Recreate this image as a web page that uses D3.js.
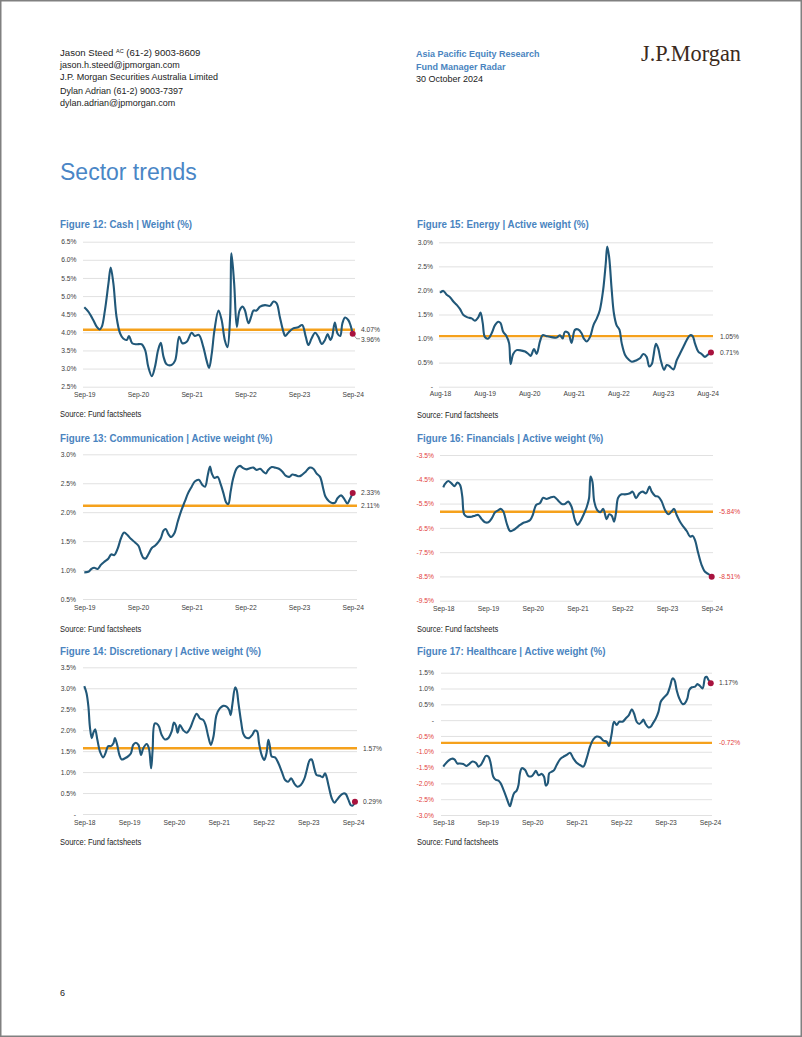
<!DOCTYPE html>
<html><head><meta charset="utf-8">
<script src="https://cdn.jsdelivr.net/npm/d3@7"></script>
<style>
body{margin:0;background:#fff}
svg{display:block}
text{font-family:Arial,"Liberation Sans",sans-serif}
</style>
</head><body>
<svg id="page" width="802" height="1037"></svg>
<script>
// ---------------- DATA ----------------
// x = months since first axis label, y = weight (%)
const cashSeries = [[0,4.69],[0.9,4.57],[2.0,4.34],[2.8,4.15],[3.4,4.08],[3.9,4.15],[4.6,4.6],[5.4,5.35],[5.9,5.79],[6.5,5.35],[7.2,4.43],[8.0,3.97],[8.7,3.83],[9.5,3.79],[10.0,3.9],[10.7,3.7],[11.7,3.67],[12.8,3.67],[13.6,3.51],[14.3,3.05],[15.1,2.79],[15.8,3.05],[16.5,3.51],[17.1,3.71],[17.7,3.33],[18.4,3.12],[19.5,3.1],[20.3,3.22],[21.2,3.88],[21.9,3.7],[22.9,3.74],[24.0,3.99],[24.7,3.9],[25.6,3.93],[26.6,3.6],[27.3,3.24],[27.9,3.02],[28.5,3.42],[29.1,4.06],[30.0,4.6],[30.7,4.34],[31.4,3.79],[32.0,3.59],[32.6,4.43],[32.9,6.18],[33.5,5.35],[34.1,4.15],[34.7,4.6],[35.4,4.71],[35.9,4.61],[36.7,4.25],[37.3,4.43],[37.8,4.6],[38.5,4.6],[39.3,4.71],[40.4,4.75],[41.5,4.73],[42.3,4.85],[43.0,4.8],[43.7,4.43],[44.5,4.02],[44.9,3.9],[45.6,3.99],[46.7,4.11],[47.8,4.14],[48.7,4.2],[49.5,3.88],[50.1,3.65],[50.8,3.83],[51.6,3.99],[52.3,3.88],[53.1,3.68],[53.8,3.79],[54.4,3.95],[55.0,3.79],[55.4,3.88],[56.0,4.27],[56.6,3.97],[57.2,3.9],[57.7,4.25],[58.3,4.41],[59.0,4.34],[59.5,4.2],[60.0,3.96]];
const cashAvg = 4.07, cashLast = 3.96;
const cashXLabels = ["Sep-19","Sep-20","Sep-21","Sep-22","Sep-23","Sep-24"];
const cashYTicks = [2.5,3.0,3.5,4.0,4.5,5.0,5.5,6.0,6.5];

const commSeries = [[0,0.96],[0.9,0.97],[1.6,1.02],[2.2,1.04],[3.0,1.02],[3.7,1.09],[4.6,1.15],[5.4,1.20],[6.0,1.27],[6.7,1.26],[7.5,1.38],[8.2,1.55],[8.9,1.65],[9.7,1.60],[10.4,1.54],[11.3,1.48],[12.1,1.42],[12.7,1.29],[13.2,1.21],[13.7,1.20],[14.3,1.27],[15.1,1.38],[15.8,1.42],[16.5,1.48],[17.1,1.55],[17.7,1.68],[18.2,1.71],[18.8,1.62],[19.4,1.57],[20.1,1.63],[20.9,1.84],[21.6,2.01],[22.5,2.19],[23.2,2.33],[24.0,2.44],[24.7,2.53],[25.6,2.56],[26.4,2.47],[27.0,2.44],[27.6,2.64],[28.1,2.79],[28.5,2.67],[29.1,2.59],[29.8,2.61],[30.5,2.48],[31.1,2.33],[31.7,2.17],[32.2,2.14],[32.7,2.35],[33.3,2.59],[34.1,2.76],[34.8,2.80],[35.5,2.76],[36.3,2.74],[37.0,2.76],[37.8,2.77],[38.5,2.73],[39.3,2.75],[40.0,2.70],[40.6,2.67],[41.1,2.73],[41.9,2.78],[42.6,2.77],[43.5,2.75],[44.3,2.70],[45.0,2.63],[45.8,2.61],[46.5,2.65],[47.2,2.64],[48.0,2.62],[48.6,2.64],[49.5,2.70],[50.4,2.77],[51.2,2.75],[51.9,2.67],[52.7,2.61],[53.4,2.41],[53.9,2.27],[54.7,2.19],[55.4,2.16],[56.0,2.16],[56.6,2.24],[57.4,2.29],[58.1,2.23],[58.8,2.15],[59.4,2.23],[60.0,2.33]];
const commAvg = 2.11, commLast = 2.33;
const commXLabels = ["Sep-19","Sep-20","Sep-21","Sep-22","Sep-23","Sep-24"];
const commYTicks = [0.5,1.0,1.5,2.0,2.5,3.0];

const discSeries = [[0,3.05],[0.6,2.88],[1.1,2.56],[1.5,2.08],[2.0,1.81],[2.4,1.93],[2.9,2.02],[3.5,1.77],[4.2,1.49],[5.1,1.35],[5.7,1.46],[6.4,1.62],[7.1,1.62],[7.8,1.69],[8.2,1.81],[8.8,1.65],[9.4,1.41],[10.0,1.30],[10.9,1.33],[11.8,1.38],[12.5,1.45],[13.1,1.65],[13.8,1.70],[14.5,1.65],[15.2,1.41],[15.8,1.57],[16.7,1.67],[17.3,1.57],[17.9,1.09],[18.3,1.53],[18.9,2.16],[19.8,2.12],[20.7,1.89],[21.6,1.78],[22.5,1.81],[23.4,1.97],[24.0,2.18],[24.5,2.12],[25.0,1.94],[25.6,2.12],[26.5,2.00],[27.4,1.94],[28.3,2.04],[29.2,2.24],[30.1,2.39],[31.0,2.28],[31.9,2.24],[32.5,2.12],[33.2,1.85],[33.9,1.65],[34.6,1.85],[35.4,2.36],[36.3,2.52],[37.2,2.58],[38.1,2.56],[38.8,2.48],[39.2,2.36],[39.7,2.64],[40.4,3.02],[40.8,2.96],[41.3,2.64],[42.0,2.20],[42.6,1.91],[43.2,1.83],[44.1,1.81],[45.0,1.89],[45.7,1.99],[46.3,1.97],[46.8,1.69],[47.5,1.41],[48.2,1.29],[48.8,1.45],[49.3,1.77],[49.7,1.62],[50.2,1.37],[51.1,1.35],[52.0,1.21],[52.9,1.01],[53.8,0.81],[54.6,0.77],[55.4,0.85],[56.3,0.72],[57.1,0.65],[58.0,0.69],[58.9,0.83],[59.6,1.05],[60.4,1.29],[60.9,1.30],[61.6,1.09],[62.2,0.93],[63.1,0.91],[63.8,0.88],[64.5,0.97],[64.9,0.88],[65.5,0.65],[66.3,0.37],[67.0,0.27],[67.6,0.33],[68.5,0.43],[69.4,0.49],[70.0,0.48],[70.7,0.35],[71.4,0.21],[71.9,0.20],[72.5,0.29]];
const discAvg = 1.57, discLast = 0.29;
const discXLabels = ["Sep-18","Sep-19","Sep-20","Sep-21","Sep-22","Sep-23","Sep-24"];
const discYTicks = [0,0.5,1.0,1.5,2.0,2.5,3.0,3.5];

const energySeries = [[0,1.95],[0.9,1.99],[1.8,1.91],[2.7,1.86],[3.6,1.77],[4.5,1.70],[5.4,1.61],[6.3,1.49],[7.4,1.44],[8.5,1.42],[9.4,1.37],[10.3,1.44],[10.9,1.54],[11.5,1.32],[12.1,1.03],[13.0,1.0],[13.9,1.11],[14.8,1.28],[15.7,1.35],[16.3,1.32],[17.0,1.14],[17.9,1.05],[18.6,0.90],[19.0,0.47],[19.7,0.68],[20.6,0.76],[22.0,0.75],[22.9,0.73],[23.8,0.68],[24.4,0.64],[25.3,0.78],[26.0,0.68],[26.9,0.94],[27.6,1.07],[28.7,1.05],[30.0,1.03],[31.4,1.02],[32.3,1.07],[33.0,1.0],[33.6,1.14],[34.5,1.12],[35.4,0.91],[36.3,1.18],[37.2,1.19],[38.1,1.11],[38.7,1.0],[39.5,0.94],[40.4,1.04],[41.3,1.28],[42.2,1.42],[43.0,1.59],[43.9,2.01],[44.6,2.56],[45.0,2.91],[45.5,2.70],[46.2,2.01],[46.8,1.52],[47.5,1.28],[48.3,1.18],[48.9,0.90],[49.8,0.66],[50.7,0.57],[51.6,0.52],[52.9,0.55],[53.8,0.59],[54.7,0.68],[55.6,0.62],[56.3,0.42],[57.0,0.47],[57.4,0.62],[58.1,0.89],[58.7,0.80],[59.4,0.55],[60.3,0.35],[61.0,0.45],[61.7,0.43],[62.8,0.36],[63.7,0.55],[64.6,0.69],[65.5,0.83],[66.4,0.97],[67.3,1.07],[68.0,1.05],[68.6,0.90],[69.5,0.73],[70.4,0.68],[71.3,0.62],[72.0,0.66],[72.9,0.71]];
const energyAvg = 1.05, energyLast = 0.71;
const energyXLabels = ["Aug-18","Aug-19","Aug-20","Aug-21","Aug-22","Aug-23","Aug-24"];
const energyYTicks = [0,0.5,1.0,1.5,2.0,2.5,3.0];

const finSeries = [[0,-4.83],[0.4,-4.70],[1.3,-4.57],[2.2,-4.67],[3.0,-4.78],[3.8,-4.63],[4.5,-4.74],[5.1,-5.22],[5.6,-5.94],[6.4,-6.04],[7.6,-6.04],[8.5,-6.0],[9.4,-5.97],[10.3,-6.14],[11.2,-6.27],[12.1,-6.27],[13.0,-6.11],[13.9,-5.86],[14.8,-5.77],[15.4,-5.72],[16.1,-5.83],[17.0,-6.31],[17.9,-6.63],[18.8,-6.59],[19.7,-6.49],[20.6,-6.38],[21.5,-6.29],[22.4,-6.25],[23.3,-6.18],[24.0,-5.97],[24.9,-5.56],[25.9,-5.49],[26.8,-5.26],[27.7,-5.31],[28.6,-5.26],[29.7,-5.22],[30.9,-5.39],[31.8,-5.52],[32.6,-5.52],[33.5,-5.42],[34.4,-5.63],[35.3,-6.18],[36.0,-6.38],[36.7,-6.25],[37.6,-5.97],[38.5,-5.63],[39.1,-5.28],[39.5,-4.39],[40.0,-4.60],[40.5,-5.42],[41.3,-5.77],[42.1,-5.86],[42.9,-5.72],[43.8,-6.14],[44.5,-5.94],[45.2,-6.0],[45.8,-6.25],[46.3,-5.91],[46.9,-5.26],[47.8,-5.12],[48.7,-5.12],[49.9,-5.09],[50.8,-5.01],[51.7,-5.28],[52.6,-5.08],[53.5,-5.01],[54.4,-5.08],[55.3,-4.80],[55.9,-5.01],[56.8,-5.18],[57.7,-5.22],[58.6,-5.42],[59.5,-5.77],[60.4,-5.94],[61.2,-5.83],[61.9,-5.72],[62.6,-5.97],[63.5,-6.25],[64.4,-6.45],[65.3,-6.63],[66.2,-6.86],[66.9,-6.83],[67.5,-7.0],[68.4,-7.55],[69.3,-8.03],[70.2,-8.31],[71.1,-8.40],[72.0,-8.51]];
const finAvg = -5.84, finLast = -8.51;
const finXLabels = ["Sep-18","Sep-19","Sep-20","Sep-21","Sep-22","Sep-23","Sep-24"];
const finYTicks = [-9.5,-8.5,-7.5,-6.5,-5.5,-4.5,-3.5];

const healthSeries = [[0,-1.47],[0.5,-1.39],[1.4,-1.28],[2.3,-1.22],[3.0,-1.24],[3.8,-1.37],[4.5,-1.37],[5.4,-1.39],[6.3,-1.45],[7.0,-1.39],[7.9,-1.31],[8.8,-1.35],[9.5,-1.47],[10.1,-1.42],[10.8,-1.28],[11.5,-1.13],[12.2,-1.16],[12.8,-1.37],[13.5,-1.79],[14.2,-1.89],[14.9,-1.91],[15.5,-2.0],[16.2,-2.19],[16.9,-2.40],[17.6,-2.63],[18.0,-2.72],[18.5,-2.53],[19.1,-2.31],[19.8,-2.23],[20.3,-2.05],[20.7,-1.68],[21.2,-1.52],[22.1,-1.58],[23.0,-1.77],[23.9,-1.77],[24.5,-1.68],[25.0,-1.60],[25.7,-1.74],[26.6,-1.70],[27.2,-1.79],[27.7,-2.07],[28.2,-2.0],[28.6,-1.68],[29.3,-1.63],[29.9,-1.58],[30.6,-1.42],[31.5,-1.24],[32.4,-1.16],[33.3,-1.10],[34.2,-1.03],[35.1,-1.21],[36.0,-1.35],[36.9,-1.42],[37.8,-1.47],[38.7,-1.21],[39.6,-0.84],[40.5,-0.61],[41.4,-0.52],[42.3,-0.54],[43.2,-0.65],[44.1,-0.68],[44.7,-0.82],[45.4,-0.47],[46.1,-0.05],[46.8,-0.15],[47.5,-0.05],[48.4,-0.05],[49.3,0.06],[50.1,0.16],[50.9,0.34],[51.5,0.21],[52.2,-0.05],[52.9,-0.12],[53.6,-0.05],[54.0,0.02],[54.6,-0.12],[55.4,-0.23],[56.0,-0.21],[56.7,-0.08],[57.4,0.06],[58.1,0.27],[58.7,0.58],[59.6,0.72],[60.5,0.83],[61.2,1.06],[61.9,1.32],[62.4,1.27],[63.0,0.95],[63.7,0.69],[64.6,0.51],[65.2,0.53],[65.9,0.69],[66.4,0.95],[67.1,1.04],[68.0,1.06],[68.6,1.14],[69.3,1.08],[70.0,1.00],[70.7,1.35],[71.1,1.37],[71.6,1.27],[72.2,1.17]];
const healthAvg = -0.72, healthLast = 1.17;
const healthXLabels = ["Sep-18","Sep-19","Sep-20","Sep-21","Sep-22","Sep-23","Sep-24"];
const healthYTicks = [-3.0,-2.5,-2.0,-1.5,-1.0,-0.5,0,0.5,1.0,1.5];

const headerLeft = ["jason.h.steed@jpmorgan.com","J.P. Morgan Securities Australia Limited","Dylan Adrian  (61-2) 9003-7397","dylan.adrian@jpmorgan.com"];

// ---------------- STYLE ----------------
const C = {blue:"#4a84c0", line:"#215879", avg:"#f5a11c", dot:"#a8123e", red:"#e2403b", grid:"#d9d9d9", tick:"#3c3c3c", text:"#222"};

const svg = d3.select("#page");
svg.append("rect").attr("x",0.75).attr("y",0.75).attr("width",800.5).attr("height",1035.5)
  .attr("fill","#fff").attr("stroke","#808080").attr("stroke-width",1.5);

// condense text: keep the width it has at baseSize, draw it at bigSize
function condense(sel, baseSize, bigSize){
  sel.each(function(){
    const t = d3.select(this);
    t.attr("font-size", baseSize);
    const w = this.getComputedTextLength();
    t.attr("font-size", bigSize).attr("textLength", w).attr("lengthAdjust","spacingAndGlyphs");
  });
}

// header
const hl = svg.append("text").attr("x",60).attr("y",56).attr("font-size",9.6).attr("fill",C.text);
hl.append("tspan").text("Jason Steed ");
hl.append("tspan").attr("font-size",5.5).attr("dy",-3).text("AC");
hl.append("tspan").attr("dy",3).text(" (61-2) 9003-8609");
const hlines = svg.selectAll("text.hl").data(headerLeft).join("text").attr("class","hl")
  .attr("x",60).attr("y",(d,i)=>[68,80,94,106][i]).attr("fill",C.text).text(d=>d);
condense(hlines, 9, 9.8);
const r1 = svg.append("text").attr("x",416).attr("y",57).attr("font-weight","bold").attr("fill",C.blue).text("Asia Pacific Equity Research");
const r2 = svg.append("text").attr("x",416).attr("y",70).attr("font-weight","bold").attr("fill",C.blue).text("Fund Manager Radar");
const r3 = svg.append("text").attr("x",416).attr("y",82).attr("fill",C.text).text("30 October 2024");
condense(r1,9,9.8); condense(r2,9,9.8); condense(r3,9,9.8);
svg.append("text").attr("x",641).attr("y",60.5).attr("font-size",22.5)
  .style("font-family",'"Liberation Serif","DejaVu Serif",serif').attr("fill","#3b2a20")
  .attr("textLength",100).attr("lengthAdjust","spacingAndGlyphs").text("J.P.Morgan");
svg.append("text").attr("x",60).attr("y",180).attr("font-size",23).attr("fill","#4a86c6").text("Sector trends");
svg.append("text").attr("x",60).attr("y",996).attr("font-size",9).attr("fill",C.text).text("6");

// ---------------- CHART ----------------
function drawChart(o){
  const g = svg.append("g");
  const x = d3.scaleLinear().domain(o.xDomain).range(o.xRange);
  const y = d3.scaleLinear().domain([o.yTicks[0], o.yTicks[o.yTicks.length-1]]).range(o.yRange);
  const fmt = v => Math.abs(v) < 1e-9 ? "-" : v.toFixed(1) + "%";

  const tt = g.append("text").attr("x",o.left).attr("y",o.titleY).attr("font-weight","bold")
    .attr("fill",C.blue).text(o.title);
  condense(tt, 9.8, 11.6);

  // y axis with gridlines
  const ya = g.append("g").attr("transform",`translate(${o.grid[1]},0)`)
    .call(d3.axisLeft(y).tickValues(o.yTicks).tickFormat(fmt)
      .tickSize(o.grid[1]-o.grid[0]).tickPadding(o.grid[0]-o.labelRight));
  ya.select(".domain").remove();
  ya.selectAll(".tick line").attr("stroke",C.grid).attr("stroke-width",0.8);
  ya.selectAll(".tick text").attr("font-size",6.7).style("font-family","Arial,'Liberation Sans',sans-serif")
    .attr("fill",d => d < 0 ? C.red : C.tick);

  // x axis
  const xa = g.append("g").attr("transform",`translate(0,${o.xLabelY-2.4})`)
    .call(d3.axisBottom(x).tickValues(o.xLabels.map((d,i)=>i*12))
      .tickFormat((d,i)=>o.xLabels[i]).tickSize(0).tickPadding(0));
  xa.select(".domain").remove();
  xa.selectAll(".tick text").attr("font-size",6.7).style("font-family","Arial,'Liberation Sans',sans-serif").attr("fill",C.tick);

  // average line
  g.append("line").attr("x1",o.grid[0]).attr("x2",o.grid[1]).attr("y1",y(o.avg)).attr("y2",y(o.avg))
    .attr("stroke",C.avg).attr("stroke-width",2.4);

  // series
  const line = d3.line().x(d=>x(d[0])).y(d=>y(d[1])).curve(d3.curveCatmullRom.alpha(0.5));
  g.append("path").datum(o.series).attr("d",line).attr("fill","none")
    .attr("stroke",C.line).attr("stroke-width",2.1).attr("stroke-linejoin","round");

  const last = o.series[o.series.length-1];
  const lx = x(last[0]), ly = y(o.last);
  if (o.leader){
    g.append("path").attr("d",`M${lx},${ly}L${lx+4},${ly+5}L${o.valueX-1},${ly+5}`)
      .attr("fill","none").attr("stroke","#555").attr("stroke-width",0.6);
  }
  g.append("circle").attr("cx",lx).attr("cy",ly).attr("r",3).attr("fill",C.dot);

  // value labels
  const labs = [{v:o.avg, dy:0},{v:o.last, dy:o.lastDy||0}];
  g.selectAll("text.val").data(labs).join("text").attr("class","val")
    .attr("x",o.valueX).attr("y",d=>y(d.v)+d.dy).attr("dy","0.35em")
    .attr("font-size",6.7).attr("fill",d=>d.v<0?C.red:C.tick).text(d=>d.v.toFixed(2)+"%");

  const src = g.append("text").attr("x",o.left).attr("y",o.sourceY).attr("fill",C.text)
    .text("Source: Fund factsheets");
  condense(src, 7.5, 8.2);
}

drawChart({title:"Figure 12: Cash | Weight (%)", series:cashSeries, avg:cashAvg, last:cashLast,
  xLabels:cashXLabels, yTicks:cashYTicks, left:60, titleY:227.5, sourceY:416.5,
  xDomain:[0,60], xRange:[84.3,352.7], yRange:[386.7,241.7], grid:[83,355], labelRight:76.5,
  xLabelY:395, valueX:361, lastDy:6, leader:true});

drawChart({title:"Figure 13: Communication | Active weight (%)", series:commSeries, avg:commAvg, last:commLast,
  xLabels:commXLabels, yTicks:commYTicks, left:60, titleY:441.5, sourceY:631.5,
  xDomain:[0,60], xRange:[84.3,352.7], yRange:[599,454.3], grid:[83,357], labelRight:76,
  xLabelY:608, valueX:361});

drawChart({title:"Figure 14: Discretionary | Active weight (%)", series:discSeries, avg:discAvg, last:discLast,
  xLabels:discXLabels, yTicks:discYTicks, left:60, titleY:654.5, sourceY:844.5,
  xDomain:[0,72], xRange:[84.3,353.1], yRange:[814,667.3], grid:[83,357], labelRight:76,
  xLabelY:823, valueX:363});

drawChart({title:"Figure 15: Energy | Active weight (%)", series:energySeries, avg:energyAvg, last:energyLast,
  xLabels:energyXLabels, yTicks:energyYTicks, left:417, titleY:227.5, sourceY:417.5,
  xDomain:[0,73], xRange:[440,711.3], yRange:[386.7,242.3], grid:[439,713], labelRight:433,
  xLabelY:394, valueX:720});

drawChart({title:"Figure 16: Financials | Active weight (%)", series:finSeries, avg:finAvg, last:finLast,
  xLabels:finXLabels, yTicks:finYTicks, left:417, titleY:441.5, sourceY:631.5,
  xDomain:[0,72], xRange:[443.3,711.7], yRange:[600.7,455], grid:[440,713], labelRight:434,
  xLabelY:609, valueX:719});

drawChart({title:"Figure 17: Healthcare | Active weight (%)", series:healthSeries, avg:healthAvg, last:healthLast,
  xLabels:healthXLabels, yTicks:healthYTicks, left:417, titleY:654.5, sourceY:844.5,
  xDomain:[0,72], xRange:[443.3,710], yRange:[815,672.7], grid:[441,712], labelRight:434,
  xLabelY:823, valueX:719});
</script>
</body></html>
